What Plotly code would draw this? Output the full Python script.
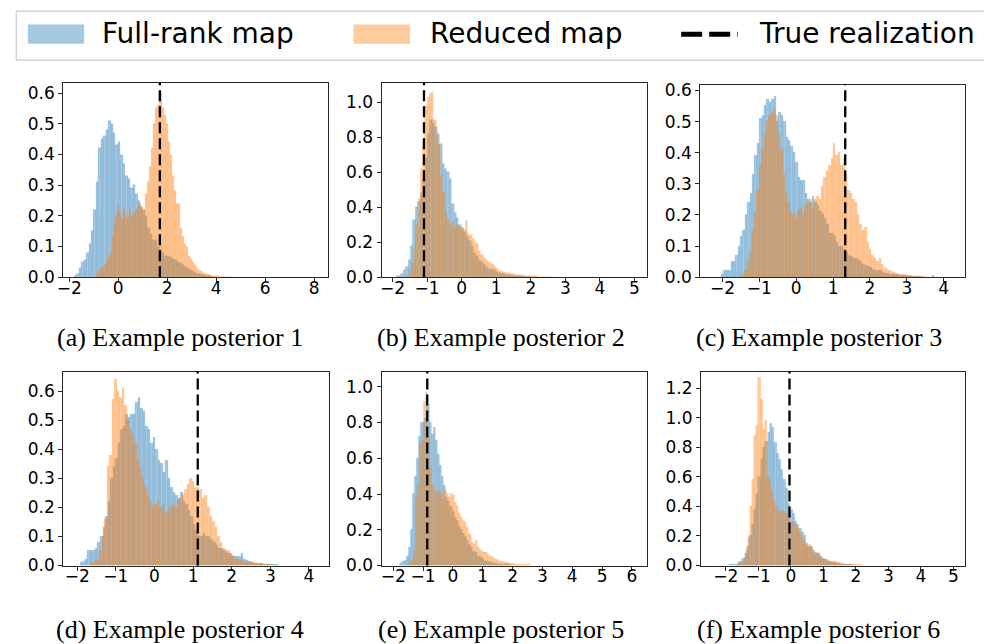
import plotly.graph_objects as go

# ---------------------------------------------------------------------------
# Histogram data: first bin centre, bin width and density per bin
# ---------------------------------------------------------------------------
A_FULL_START, A_FULL_WIDTH = -1.75, 0.10
A_FULL = [0.005, 0.01, 0.03, 0.05, 0.055, 0.08, 0.11, 0.15, 0.22, 0.31,
          0.42, 0.45, 0.46, 0.48, 0.51, 0.50, 0.47, 0.43, 0.44, 0.40,
          0.37, 0.33, 0.32, 0.29, 0.30, 0.27, 0.25, 0.23, 0.22, 0.20,
          0.16, 0.14, 0.12, 0.12, 0.10, 0.09, 0.08, 0.07, 0.07, 0.065,
          0.06, 0.055, 0.05, 0.045, 0.04, 0.035, 0.03, 0.025, 0.02, 0.015,
          0.012, 0.01, 0.008, 0.006, 0.004, 0.003, 0.002]
A_RED_START, A_RED_WIDTH = -0.86, 0.08
A_RED = [0.01, 0.02, 0.03, 0.03, 0.04, 0.05, 0.07, 0.08, 0.13, 0.18,
         0.20, 0.23, 0.21, 0.19, 0.22, 0.20, 0.19, 0.22, 0.20, 0.21,
         0.22, 0.23, 0.24, 0.23, 0.22, 0.27, 0.31, 0.36, 0.42, 0.50,
         0.55, 0.56, 0.58, 0.60, 0.55, 0.53, 0.50, 0.44, 0.40, 0.33,
         0.28, 0.24, 0.24, 0.16, 0.13, 0.11, 0.10, 0.07, 0.06, 0.05,
         0.04, 0.03, 0.025, 0.02, 0.015, 0.012, 0.01, 0.008, 0.006, 0.005,
         0.004, 0.003, 0.003, 0.002, 0.002, 0.001, 0.001, 0.001, 0.001, 0.001]

B_FULL_START, B_FULL_WIDTH = -1.86, 0.07
B_FULL = [0.005, 0.01, 0.02, 0.04, 0.06, 0.10, 0.18, 0.33, 0.40, 0.43,
          0.48, 0.56, 0.68, 0.82, 0.90, 0.88, 0.86, 0.82, 0.76, 0.65,
          0.62, 0.60, 0.56, 0.42, 0.37, 0.34, 0.30, 0.28, 0.26, 0.23,
          0.21, 0.18, 0.14, 0.12, 0.10, 0.09, 0.07, 0.06, 0.05, 0.045,
          0.04, 0.03, 0.025, 0.02, 0.02, 0.015, 0.015, 0.012, 0.01, 0.01,
          0.008, 0.006, 0.005, 0.004, 0.003, 0.002]
B_RED_START, B_RED_WIDTH = -1.55, 0.065
B_RED = [0.01, 0.03, 0.08, 0.16, 0.30, 0.45, 0.62, 0.78, 0.98, 1.03,
         1.05, 1.06, 0.90, 0.80, 0.75, 0.58, 0.48, 0.36, 0.33, 0.30,
         0.31, 0.29, 0.30, 0.29, 0.28, 0.27, 0.32, 0.25, 0.24, 0.22,
         0.20, 0.19, 0.15, 0.13, 0.11, 0.10, 0.09, 0.08, 0.07, 0.06,
         0.045, 0.035, 0.03, 0.028, 0.025, 0.022, 0.02, 0.018, 0.015, 0.013,
         0.012, 0.01, 0.009, 0.008, 0.008, 0.006, 0.005, 0.005, 0.004, 0.004,
         0.004, 0.003, 0.003, 0.003, 0.003]

C_FULL_START, C_FULL_WIDTH = -2.0, 0.065
C_FULL = [0.01, 0.02, 0.02, 0.02, 0.05, 0.05, 0.07, 0.10, 0.13, 0.15,
          0.20, 0.24, 0.27, 0.33, 0.39, 0.43, 0.51, 0.52, 0.55, 0.57,
          0.56, 0.57, 0.58, 0.50, 0.53, 0.52, 0.50, 0.45, 0.44, 0.42,
          0.40, 0.37, 0.32, 0.31, 0.31, 0.27, 0.25, 0.24, 0.26, 0.24,
          0.23, 0.21, 0.20, 0.19, 0.17, 0.14, 0.14, 0.13, 0.11, 0.10,
          0.10, 0.09, 0.08, 0.07, 0.065, 0.06, 0.06, 0.055, 0.05, 0.04,
          0.038, 0.035, 0.03, 0.025, 0.022, 0.02, 0.02, 0.015, 0.013, 0.012,
          0.01, 0.01, 0.009, 0.008, 0.006, 0.005, 0.005, 0.004, 0.003, 0.003,
          0.002, 0.002, 0.002, 0.0, 0.0, 0.0, 0.0, 0.0, 0.006]
C_RED_START, C_RED_WIDTH = -1.43, 0.065
C_RED = [0.01, 0.02, 0.05, 0.08, 0.15, 0.21, 0.28, 0.36, 0.41, 0.46,
         0.50, 0.52, 0.53, 0.54, 0.52, 0.46, 0.41, 0.33, 0.27, 0.24,
         0.21, 0.20, 0.19, 0.21, 0.22, 0.20, 0.23, 0.24, 0.25, 0.22,
         0.25, 0.26, 0.25, 0.29, 0.32, 0.34, 0.36, 0.38, 0.43, 0.39,
         0.40, 0.36, 0.38, 0.33, 0.28, 0.27, 0.25, 0.24, 0.20, 0.17,
         0.15, 0.16, 0.11, 0.09, 0.07, 0.06, 0.05, 0.06, 0.04, 0.03,
         0.025, 0.02, 0.018, 0.015, 0.012, 0.01, 0.009, 0.008, 0.006, 0.005,
         0.004, 0.003, 0.002, 0.002, 0.002, 0.003]

D_FULL_START, D_FULL_WIDTH = -1.89, 0.065
D_FULL = [0.01, 0.015, 0.02, 0.05, 0.05, 0.05, 0.06, 0.08, 0.10, 0.13,
          0.17, 0.22, 0.30, 0.34, 0.37, 0.42, 0.47, 0.48, 0.52, 0.51,
          0.52, 0.52, 0.56, 0.58, 0.54, 0.53, 0.48, 0.47, 0.42, 0.44,
          0.40, 0.36, 0.35, 0.32, 0.36, 0.30, 0.27, 0.25, 0.24, 0.23,
          0.25, 0.22, 0.21, 0.19, 0.17, 0.14, 0.12, 0.10, 0.10, 0.11,
          0.10, 0.10, 0.09, 0.08, 0.07, 0.06, 0.06, 0.05, 0.045, 0.04,
          0.035, 0.03, 0.03, 0.03, 0.042, 0.02, 0.018, 0.015, 0.01, 0.008,
          0.008, 0.008, 0.006, 0.005, 0.004, 0.004, 0.003, 0.003, 0.003]
D_RED_START, D_RED_WIDTH = -1.59, 0.065
D_RED = [0.01, 0.015, 0.02, 0.05, 0.10, 0.16, 0.34, 0.38, 0.57, 0.64,
         0.60, 0.58, 0.61, 0.55, 0.50, 0.47, 0.45, 0.42, 0.36, 0.33,
         0.30, 0.27, 0.24, 0.22, 0.20, 0.21, 0.22, 0.20, 0.21, 0.18,
         0.19, 0.20, 0.21, 0.20, 0.22, 0.23, 0.24, 0.26, 0.28, 0.30,
         0.29, 0.27, 0.27, 0.26, 0.23, 0.24, 0.20, 0.17, 0.15, 0.13,
         0.10, 0.08, 0.06, 0.05, 0.05, 0.04, 0.03, 0.02, 0.02, 0.018,
         0.015, 0.012, 0.01, 0.01, 0.009, 0.008, 0.008, 0.006, 0.005, 0.004,
         0.003, 0.003]

E_FULL_START, E_FULL_WIDTH = -1.74, 0.07
E_FULL = [0.01, 0.02, 0.03, 0.05, 0.10, 0.20, 0.40, 0.50, 0.60, 0.72,
          0.80, 0.80, 0.82, 0.90, 0.80, 0.73, 0.77, 0.70, 0.62, 0.56,
          0.50, 0.45, 0.38, 0.36, 0.33, 0.30, 0.27, 0.25, 0.22, 0.20,
          0.18, 0.16, 0.14, 0.12, 0.10, 0.08, 0.07, 0.05, 0.05, 0.04,
          0.03, 0.025, 0.02, 0.017, 0.015, 0.012, 0.01, 0.008, 0.006, 0.005,
          0.004, 0.003, 0.003]
E_RED_START, E_RED_WIDTH = -1.47, 0.065
E_RED = [0.01, 0.02, 0.03, 0.08, 0.38, 0.45, 0.68, 0.70, 0.92, 0.97,
         0.72, 0.55, 0.45, 0.42, 0.40, 0.42, 0.41, 0.40, 0.37, 0.42,
         0.40, 0.38, 0.40, 0.39, 0.35, 0.33, 0.29, 0.27, 0.25, 0.24,
         0.21, 0.18, 0.17, 0.13, 0.12, 0.14, 0.10, 0.09, 0.08, 0.07,
         0.07, 0.06, 0.05, 0.05, 0.04, 0.035, 0.03, 0.025, 0.02, 0.017,
         0.015, 0.015, 0.012, 0.01, 0.009, 0.008, 0.007, 0.006, 0.005, 0.005,
         0.004, 0.003, 0.003]

F_FULL_START, F_FULL_WIDTH = -1.87, 0.07
F_FULL = [0.005, 0.005, 0.008, 0.01, 0.02, 0.03, 0.05, 0.08, 0.13, 0.20,
          0.28, 0.38, 0.48, 0.60, 0.72, 0.80, 0.84, 0.90, 0.96, 0.93,
          0.83, 0.76, 0.72, 0.65, 0.58, 0.52, 0.42, 0.38, 0.35, 0.30,
          0.28, 0.25, 0.22, 0.20, 0.15, 0.13, 0.12, 0.10, 0.08, 0.08,
          0.06, 0.05, 0.04, 0.03, 0.03, 0.02, 0.018, 0.015, 0.012, 0.01,
          0.008, 0.006, 0.005, 0.004, 0.003]
F_RED_START, F_RED_WIDTH = -1.61, 0.065
F_RED = [0.01, 0.02, 0.03, 0.05, 0.10, 0.18, 0.40, 0.58, 0.88, 0.95,
         1.27, 1.12, 0.92, 0.98, 0.60, 0.58, 0.50, 0.44, 0.40, 0.37,
         0.35, 0.37, 0.36, 0.35, 0.33, 0.30, 0.29, 0.28, 0.25, 0.22,
         0.19, 0.16, 0.14, 0.13, 0.14, 0.13, 0.09, 0.09, 0.08, 0.06,
         0.05, 0.04, 0.04, 0.035, 0.03, 0.028, 0.025, 0.02, 0.018, 0.015,
         0.012, 0.01, 0.009, 0.008, 0.006, 0.005, 0.005, 0.004, 0.004, 0.003]

TRUE_VALUES = [1.70, -1.09, 1.33, 1.12, -0.86, -0.04]

CAPTIONS = ["(a) Example posterior 1", "(b) Example posterior 2",
            "(c) Example posterior 3", "(d) Example posterior 4",
            "(e) Example posterior 5", "(f) Example posterior 6"]

X_TICKS = [[-2, 0, 2, 4, 6, 8],
           [-2, -1, 0, 1, 2, 3, 4, 5],
           [-2, -1, 0, 1, 2, 3, 4],
           [-2, -1, 0, 1, 2, 3, 4],
           [-2, -1, 0, 1, 2, 3, 4, 5, 6],
           [-2, -1, 0, 1, 2, 3, 4, 5]]
Y_TICKS = [[0.0, 0.1, 0.2, 0.3, 0.4, 0.5, 0.6],
           [0.0, 0.2, 0.4, 0.6, 0.8, 1.0],
           [0.0, 0.1, 0.2, 0.3, 0.4, 0.5, 0.6],
           [0.0, 0.1, 0.2, 0.3, 0.4, 0.5, 0.6],
           [0.0, 0.2, 0.4, 0.6, 0.8, 1.0],
           [0.0, 0.2, 0.4, 0.6, 0.8, 1.0, 1.2]]

LEGEND_LABELS = ["Full-rank map", "Reduced map", "True realization"]

# ---------------------------------------------------------------------------
W, H = 984, 644
FULL_COLOR = "rgba(31,119,180,0.4)"
RED_COLOR = "rgba(255,127,14,0.4)"
FULL_EDGE = "rgba(31,119,180,0.22)"
RED_EDGE = "rgba(255,127,14,0.22)"
TICK_FONT = dict(family="DejaVu Sans", size=17, color="black")

series = [
    (A_FULL_START, A_FULL_WIDTH, A_FULL, A_RED_START, A_RED_WIDTH, A_RED),
    (B_FULL_START, B_FULL_WIDTH, B_FULL, B_RED_START, B_RED_WIDTH, B_RED),
    (C_FULL_START, C_FULL_WIDTH, C_FULL, C_RED_START, C_RED_WIDTH, C_RED),
    (D_FULL_START, D_FULL_WIDTH, D_FULL, D_RED_START, D_RED_WIDTH, D_RED),
    (E_FULL_START, E_FULL_WIDTH, E_FULL, E_RED_START, E_RED_WIDTH, E_RED),
    (F_FULL_START, F_FULL_WIDTH, F_FULL, F_RED_START, F_RED_WIDTH, F_RED),
]

# pixel boxes of the six axes: (left, right, top, bottom)
boxes = [(56.7, 323.0, 80.7, 279.3), (377.3, 645.0, 80.7, 279.3),
         (698.3, 965.3, 82.3, 279.3), (56.7, 324.0, 375.7, 574.0),
         (377.3, 645.0, 375.7, 574.0), (699.0, 965.3, 375.7, 574.0)]
x_ranges = [[-2.243, 8.556], [-2.316, 5.374], [-2.60, 4.59],
            [-2.36, 4.51], [-2.39, 6.52], [-2.76, 5.37]]
y_ranges = [[0, 0.633], [0, 1.11], [0, 0.619],
            [0, 0.668], [0, 1.085], [0, 1.312]]
caption_pos = [(174.7, 341), (497.5, 341), (817.5, 341),
               (174.7, 639), (497.5, 639), (817.5, 639)]


def centres(start, width, heights):
    return [start + i * width for i in range(len(heights))]


fig = go.Figure()
layout = dict(
    width=W, height=H, margin=dict(l=0, r=0, t=0, b=0),
    paper_bgcolor="white", plot_bgcolor="white",
    barmode="overlay", bargap=0, showlegend=False,
)
shapes, annotations = [], []

for k, (fs, fw, fh, rs, rw, rh) in enumerate(series):
    sfx = "" if k == 0 else str(k + 1)
    xa, ya = "x" + sfx, "y" + sfx
    fig.add_trace(go.Bar(x=centres(fs, fw, fh), y=fh, width=fw,
                         marker=dict(color=FULL_COLOR, line=dict(width=0.6, color=FULL_EDGE)),
                         xaxis=xa, yaxis=ya, name=LEGEND_LABELS[0]))
    fig.add_trace(go.Bar(x=centres(rs, rw, rh), y=rh, width=rw,
                         marker=dict(color=RED_COLOR, line=dict(width=0.6, color=RED_EDGE)),
                         xaxis=xa, yaxis=ya, name=LEGEND_LABELS[1]))
    l, r, t, b = boxes[k]
    axis_common = dict(showline=True, mirror=True, linecolor="#262626",
                       linewidth=1.1, ticks="outside", ticklen=4, tickwidth=1,
                       tickcolor="#262626", showgrid=False, zeroline=False,
                       tickfont=TICK_FONT, fixedrange=True)
    layout["xaxis" + sfx] = dict(domain=[l / W, r / W], range=x_ranges[k],
                                 anchor=ya, tickvals=X_TICKS[k],
                                 ticktext=[str(v).replace("-", "\u2212") for v in X_TICKS[k]],
                                 ticklabelstandoff=-9,
                                 **axis_common)
    layout["yaxis" + sfx] = dict(domain=[1 - b / H, 1 - t / H], range=y_ranges[k],
                                 anchor=xa, tickvals=Y_TICKS[k],
                                 ticktext=["%.1f" % v for v in Y_TICKS[k]],
                                 **axis_common)
    shapes.append(dict(type="line", xref=xa, yref=ya + " domain",
                       x0=TRUE_VALUES[k], x1=TRUE_VALUES[k], y0=0, y1=1,
                       line=dict(color="black", width=2.3, dash="11px,5px")))
    cx, cy = caption_pos[k]
    annotations.append(dict(text=CAPTIONS[k], x=cx / W, y=1 - cy / H,
                            xref="paper", yref="paper", showarrow=False,
                            xanchor="center", yanchor="middle",
                            font=dict(family="Liberation Serif", size=26, color="black")))

# legend frame and entries along the top
def px(x):
    return x / W


def py(y):
    return 1 - y / H


shapes.append(dict(type="rect", xref="paper", yref="paper",
                   x0=px(9.3), x1=px(995), y0=py(57.3), y1=py(7.3),
                   line=dict(color="#cccccc", width=1.2), fillcolor="white",
                   layer="below"))
shapes.append(dict(type="rect", xref="paper", yref="paper",
                   x0=px(21), x1=px(77.7), y0=py(40.7), y1=py(21),
                   line=dict(width=0), fillcolor=FULL_COLOR))
shapes.append(dict(type="rect", xref="paper", yref="paper",
                   x0=px(349), x1=px(406), y0=py(40.7), y1=py(21),
                   line=dict(width=0), fillcolor=RED_COLOR))
shapes.append(dict(type="line", xref="paper", yref="paper",
                   x0=px(679), x1=px(736), y0=py(31), y1=py(31),
                   line=dict(color="black", width=5, dash="21px,7px")))
for label, x0 in zip(LEGEND_LABELS, [94, 424, 755]):
    annotations.append(dict(text=label, x=px(x0), y=py(30), xref="paper",
                            yref="paper", showarrow=False, xanchor="left",
                            yanchor="middle",
                            font=dict(family="DejaVu Sans", size=28, color="black")))

layout["shapes"] = shapes
layout["annotations"] = annotations
fig.update_layout(**layout)
fig.write_html("out.html")
